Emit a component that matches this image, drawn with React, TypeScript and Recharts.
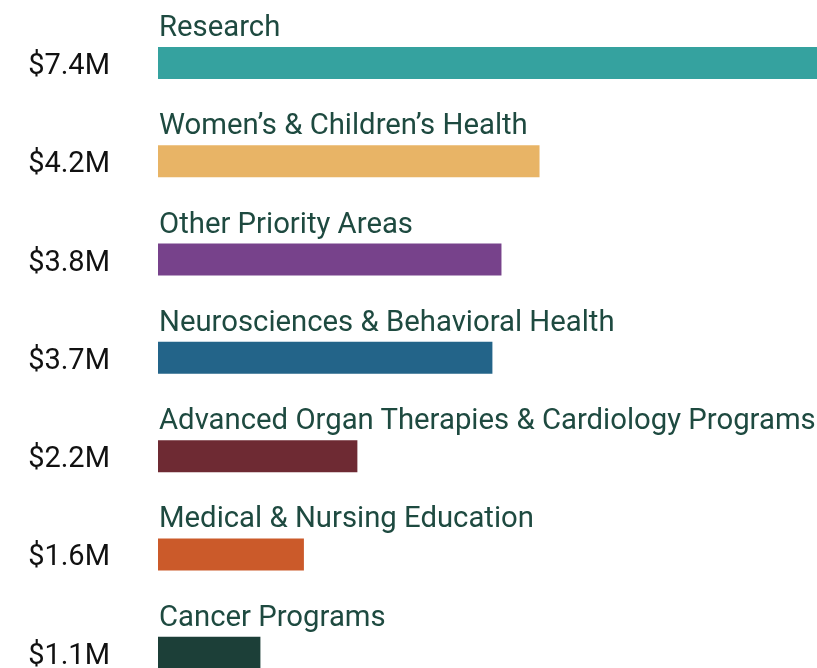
import React from "react";
import { BarChart, Bar, XAxis, YAxis, Cell, LabelList } from "recharts";

const categories = [
  "Research",
  "Women’s & Children’s Health",
  "Other Priority Areas",
  "Neurosciences & Behavioral Health",
  "Advanced Organ Therapies & Cardiology Programs",
  "Medical & Nursing Education",
  "Cancer Programs",
];
const values = [7.4, 4.21, 3.79, 3.69, 2.2, 1.61, 1.13];
const valueLabels = ["$7.4M", "$4.2M", "$3.8M", "$3.7M", "$2.2M", "$1.6M", "$1.1M"];
const colors = ["#35a29f", "#e8b466", "#77428b", "#236489", "#6e2a33", "#cb5a2a", "#1c3f38"];

const data = categories.map((name, i) => ({ name, value: values[i], label: valueLabels[i] }));

const FONT = "Roboto, 'Noto Sans', sans-serif";

const renderLabels = (props: any) => {
  const { x, y, height, index } = props;
  return (
    <g>
      <text x={x + 1} y={y - 11} fill="#1e4a40" fontSize={29.3} fontFamily={FONT}>
        {categories[index]}
      </text>
      <text x={x - 48} y={y + height / 2 + 11} fill="#111111" fontSize={29} fontFamily={FONT} textAnchor="end">
        {valueLabels[index]}
      </text>
    </g>
  );
};

export default function App() {
  return (
    <div style={{ position: "fixed", left: 0, top: 0, width: 817, height: 668, overflow: "hidden" }}>
      <BarChart
        width={910}
        height={702}
        data={data}
        layout="vertical"
        margin={{ top: 14, right: 27, bottom: 0, left: 158 }}
      >
        <XAxis type="number" domain={[0, 8]} hide />
        <YAxis type="category" dataKey="name" hide />
        <Bar dataKey="value" barSize={32} isAnimationActive={false}>
          {data.map((d, i) => (
            <Cell key={d.name} fill={colors[i]} />
          ))}
          <LabelList dataKey="label" content={renderLabels} />
        </Bar>
      </BarChart>
    </div>
  );
}
